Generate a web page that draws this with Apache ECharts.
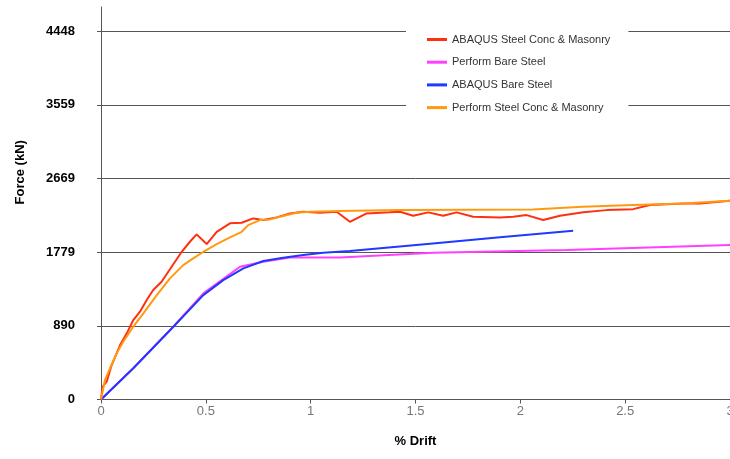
<!DOCTYPE html>
<html>
<head>
<meta charset="utf-8">
<script src="https://cdn.jsdelivr.net/npm/echarts@6/dist/echarts.min.js"></script>
<style>html,body{margin:0;padding:0;background:#fff}#c{width:730px;height:459px}</style>
</head>
<body>
<div id="c"></div>
<script>
const seriesNames = ['ABAQUS Steel Conc & Masonry', 'Perform Bare Steel', 'ABAQUS Bare Steel', 'Perform Steel Conc & Masonry'];
const seriesColors = ['#ff3010', '#ff40ff', '#2038ff', '#ff9a10'];
const yTicks = [0, 889.644, 1779.288, 2668.932, 3558.576, 4448.22];

const abaqusConc = [[0,0],[0.008,155],[0.027,215],[0.051,416],[0.091,658],[0.123,799],[0.154,960],[0.186,1060],[0.218,1201],[0.249,1322],[0.289,1422],[0.337,1603],[0.385,1784],[0.424,1905],[0.456,1994],[0.504,1877],[0.552,2025],[0.615,2127],[0.671,2134],[0.726,2187],[0.774,2167],[0.838,2199],[0.901,2247],[0.965,2267],[1.044,2255],[1.124,2267],[1.187,2146],[1.267,2247],[1.378,2260],[1.426,2267],[1.489,2219],[1.561,2260],[1.632,2219],[1.696,2260],[1.775,2206],[1.903,2199],[1.966,2206],[2.030,2227],[2.109,2167],[2.189,2219],[2.300,2260],[2.412,2287],[2.538,2299],[2.618,2348],[2.777,2368],[2.857,2368],[3.0,2400]];
const performBare = [[0,0],[0.154,377],[0.345,879],[0.488,1282],[0.663,1603],[0.774,1663],[0.901,1716],[1.060,1716],[1.140,1716],[1.585,1772],[2.221,1804],[3.0,1865]];
const abaqusBare = [[0,0],[0.154,377],[0.345,879],[0.488,1261],[0.583,1442],[0.679,1584],[0.774,1672],[0.869,1712],[0.965,1744],[1.060,1772],[1.187,1792],[1.583,1885],[1.903,1958],[2.252,2037]];
const performConc = [[0,0],[0.019,236],[0.043,377],[0.075,558],[0.106,698],[0.154,879],[0.202,1040],[0.266,1261],[0.329,1463],[0.392,1623],[0.440,1704],[0.496,1796],[0.552,1877],[0.615,1958],[0.671,2025],[0.702,2106],[0.758,2167],[0.806,2175],[0.869,2215],[0.933,2255],[0.997,2267],[1.140,2275],[1.426,2287],[2.060,2296],[2.298,2327],[2.537,2348],[2.775,2368],[3.0,2400]];
const seriesData = [abaqusConc, performBare, abaqusBare, performConc];

const chart = echarts.init(document.getElementById('c'));
chart.setOption({
  backgroundColor: '#ffffff',
  animation: false,
  grid: { left: 101, right: 0, top: 7, bottom: 59.5, outerBoundsMode: 'none', containLabel: false },
  legend: {
    orient: 'vertical',
    left: 406, top: 24,
    padding: [10, 18, 10, 21],
    backgroundColor: '#ffffff',
    icon: 'rect',
    itemWidth: 20, itemHeight: 3, itemGap: 11.7,
    textStyle: { fontFamily: 'Liberation Sans', fontSize: 11, color: '#333' },
    data: seriesNames
  },
  xAxis: {
    type: 'value', min: 0, max: 3, interval: 0.5,
    name: '% Drift', nameLocation: 'middle', nameGap: 35,
    nameTextStyle: { fontFamily: 'Liberation Sans', fontSize: 13, fontWeight: 'bold', color: '#000' },
    axisLine: { show: true, lineStyle: { color: '#555', width: 1 } },
    axisTick: { show: true, length: 4, lineStyle: { color: '#555' } },
    axisLabel: { margin: 5, fontFamily: 'Liberation Sans', fontSize: 13, color: '#777' },
    splitLine: { show: false }
  },
  yAxis: {
    type: 'value', min: 0, max: 4740, interval: 889.644,
    name: 'Force (kN)', nameLocation: 'middle', nameGap: 74,
    nameTextStyle: { fontFamily: 'Liberation Sans', fontSize: 13, fontWeight: 'bold', color: '#000', padding: [0, 0, 0, 62] },
    axisLine: { show: true, lineStyle: { color: '#555', width: 1 } },
    axisTick: { show: true, length: 4, lineStyle: { color: '#555' }, customValues: yTicks },
    axisLabel: { margin: 26, fontFamily: 'Liberation Sans', fontSize: 13, fontWeight: 'bold', color: '#000', customValues: yTicks, formatter: v => String(Math.round(v)) },
    splitLine: { show: true, lineStyle: { color: '#555', width: 1 } }
  },
  series: seriesNames.map((n, i) => ({
    name: n, type: 'line', data: seriesData[i],
    symbol: 'none', showSymbol: false,
    lineStyle: { color: seriesColors[i], width: 2 },
    itemStyle: { color: seriesColors[i] }
  }))
});
</script>
</body>
</html>
